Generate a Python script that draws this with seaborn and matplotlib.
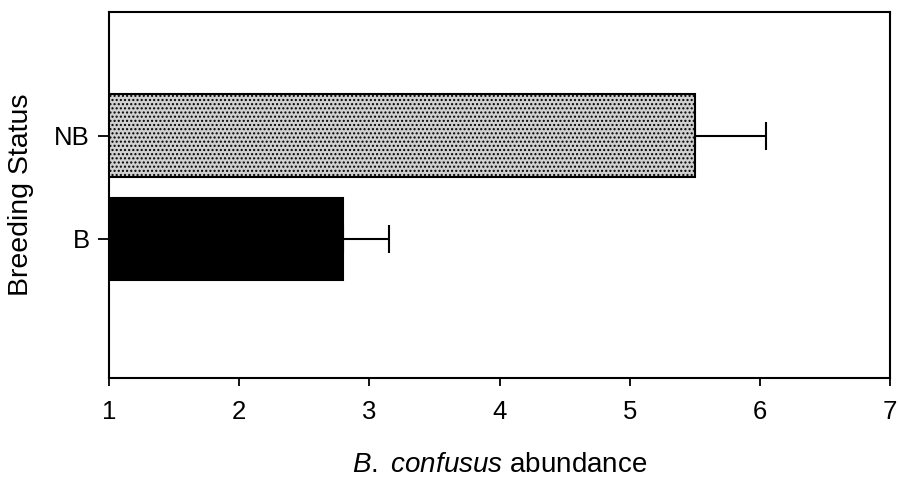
import numpy as np
import pandas as pd
import matplotlib
matplotlib.use("Agg")
import matplotlib.pyplot as plt
import seaborn as sns

status = ["NB", "B"]
abundance = [5.50, 2.80]
upper_err = [0.55, 0.35]
bar_colors = ["#d0d0d0", "#000000"]
x_ticks = [1, 2, 3, 4, 5, 6, 7]

df = pd.DataFrame({"status": status, "abundance": abundance})

sns.set_style("ticks")
plt.rcParams["font.family"] = ["Liberation Sans", "DejaVu Sans"]
plt.rcParams["mathtext.fontset"] = "custom"
plt.rcParams["mathtext.it"] = "Liberation Sans:italic"
plt.rcParams["mathtext.rm"] = "Liberation Sans"
plt.rcParams["hatch.color"] = "#555555"
plt.rcParams["text.color"] = "black"
plt.rcParams["axes.labelcolor"] = "black"

fig = plt.figure(figsize=(8.98, 4.86), dpi=100)
ax = fig.add_axes([0.1214, 0.2222, 0.8697, 0.7531])

sns.barplot(data=df, x="abundance", y="status", hue="status", order=status,
            palette=dict(zip(status, bar_colors)), orient="h", width=0.8,
            errorbar=None, legend=False, edgecolor="black", linewidth=1.5, ax=ax)

# stippled fill on the non-breeding bar
ax.patches[0].set_hatch("....")

ypos = np.arange(len(status))
ax.errorbar(abundance, ypos, xerr=[np.zeros(len(status)), upper_err],
            fmt="none", ecolor="black", elinewidth=1.5, capsize=10, capthick=1.5)

ax.set_xlim(1, 7)
ax.set_ylim(2.35, -1.2)
ax.set_xticks(x_ticks)
ax.set_xticklabels([str(t) for t in x_ticks])

for side in ["top", "right", "left", "bottom"]:
    ax.spines[side].set_visible(True)
    ax.spines[side].set_linewidth(1.5)
    ax.spines[side].set_color("black")

ax.tick_params(axis="both", direction="out", length=6, width=1.3, labelsize=18.5,
               colors="black", pad=6)
ax.tick_params(axis="y", length=8)
ax.tick_params(axis="x", pad=10)

ax.set_xlabel("$\\it{B.}$ $\\it{confusus}$ abundance", fontsize=20, labelpad=20)
ax.set_ylabel("Breeding Status", fontsize=20.5, labelpad=14)

fig.savefig("out.png", dpi=100)
